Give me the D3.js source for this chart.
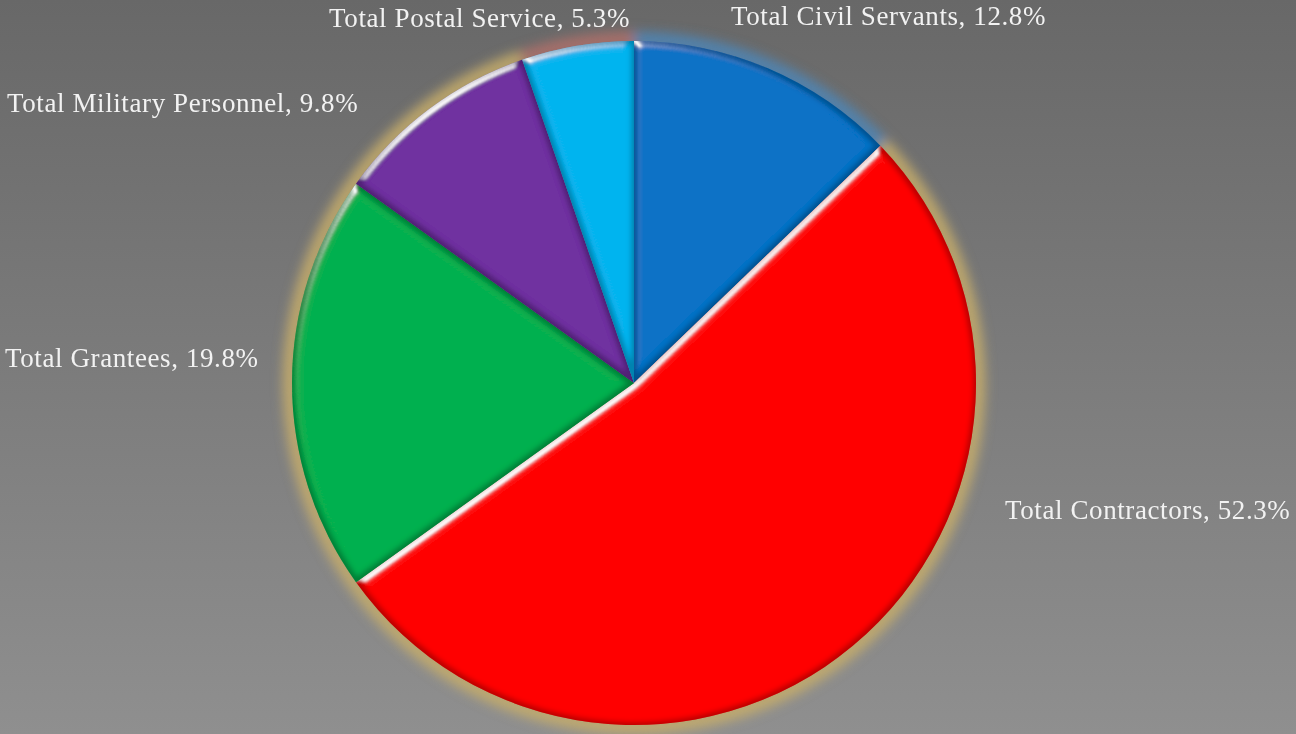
<!DOCTYPE html>
<html>
<head>
<meta charset="utf-8">
<script src="https://cdn.jsdelivr.net/npm/d3@7"></script>
<style>
  html, body { margin: 0; padding: 0; overflow: hidden; }
  svg { display: block; }
</style>
</head>
<body>
<svg id="chart" width="1296" height="734"></svg>
<script>
// Workforce shares, clockwise from 12 o'clock
const categories = ["Total Civil Servants", "Total Contractors", "Total Grantees", "Total Military Personnel", "Total Postal Service"];
const shares = [12.8, 52.3, 19.8, 9.8, 5.3];
const colors = ["#0a72c6", "#ff0000", "#00b050", "#7030a0", "#00b4ef"];
// label anchor points: [x, baseline y, text-anchor]
const labelPos = [
  [731, 25, "start"],
  [1005, 519, "start"],
  [5, 367, "start"],
  [7, 112, "start"],
  [630, 27, "end"]
];

const W = 1296, H = 734;
const cx = 634, cy = 383, R = 342;

const svg = d3.select("#chart");
const defs = svg.append("defs");

const bg = defs.append("linearGradient").attr("id", "bg")
  .attr("x1", 0).attr("y1", 0).attr("x2", 0).attr("y2", 1);
bg.append("stop").attr("offset", "0%").attr("stop-color", "#686868");
bg.append("stop").attr("offset", "100%").attr("stop-color", "#8f8f8f");

// soft outer glow around the disc
const glow = defs.append("filter").attr("id", "glow")
  .attr("x", "-20%").attr("y", "-20%").attr("width", "140%").attr("height", "140%");
glow.append("feGaussianBlur").attr("stdDeviation", 6);

// bevel shading on each slice: dark rim inside the edge plus a soft highlight
const bevel = defs.append("filter").attr("id", "bevel")
  .attr("x", "-5%").attr("y", "-5%").attr("width", "110%").attr("height", "110%");
bevel.append("feGaussianBlur").attr("in", "SourceAlpha").attr("stdDeviation", 4).attr("result", "blur");
const spec = bevel.append("feSpecularLighting").attr("in", "blur")
  .attr("surfaceScale", 5).attr("specularConstant", 0.9).attr("specularExponent", 30)
  .attr("lighting-color", "#ffffff").attr("result", "spec");
spec.append("feDistantLight").attr("azimuth", 235).attr("elevation", 18);
bevel.append("feComposite").attr("in", "spec").attr("in2", "SourceAlpha")
  .attr("operator", "in").attr("result", "specIn");
bevel.append("feMorphology").attr("in", "SourceAlpha").attr("operator", "erode")
  .attr("radius", 3).attr("result", "eroded");
bevel.append("feGaussianBlur").attr("in", "eroded").attr("stdDeviation", 2.5).attr("result", "erodedBlur");
bevel.append("feComposite").attr("in", "SourceAlpha").attr("in2", "erodedBlur")
  .attr("operator", "out").attr("result", "rim");
bevel.append("feFlood").attr("flood-color", "#000").attr("flood-opacity", 0.5).attr("result", "dark");
bevel.append("feComposite").attr("in", "dark").attr("in2", "rim").attr("operator", "in").attr("result", "darkRim");
const merge = bevel.append("feMerge");
merge.append("feMergeNode").attr("in", "SourceGraphic");
merge.append("feMergeNode").attr("in", "darkRim");
merge.append("feMergeNode").attr("in", "specIn");

svg.append("rect").attr("width", W).attr("height", H).attr("fill", "url(#bg)");

const pie = d3.pie().sort(null).value(d => d);
const arcs = pie(shares);
const arc = d3.arc().innerRadius(0).outerRadius(R);
const glowArc = d3.arc().innerRadius(R - 6).outerRadius(R + 9);

const g = svg.append("g").attr("transform", `translate(${cx},${cy})`);

g.append("g").attr("filter", "url(#glow)")
  .selectAll("path").data(arcs).join("path")
  .attr("d", glowArc)
  .attr("fill", (d, i) => i === 0 ? "#4c86b8" : (i === 4 ? "#b0706a" : "#c8ae6a"))
  .attr("opacity", 0.9);

g.selectAll("path.slice").data(arcs).join("path")
  .attr("class", "slice")
  .attr("d", arc)
  .attr("fill", (d, i) => colors[i])
  .attr("filter", "url(#bevel)");

svg.append("g").selectAll("text").data(arcs).join("text")
  .attr("x", (d, i) => labelPos[i][0])
  .attr("y", (d, i) => labelPos[i][1])
  .attr("text-anchor", (d, i) => labelPos[i][2])
  .attr("fill", "#f2f2f2")
  .attr("font-family", "'Liberation Serif', 'DejaVu Serif', serif")
  .attr("font-size", 27)
  .attr("letter-spacing", 0.6)
  .text((d, i) => `${categories[i]}, ${shares[i].toFixed(1)}%`);
</script>
</body>
</html>
